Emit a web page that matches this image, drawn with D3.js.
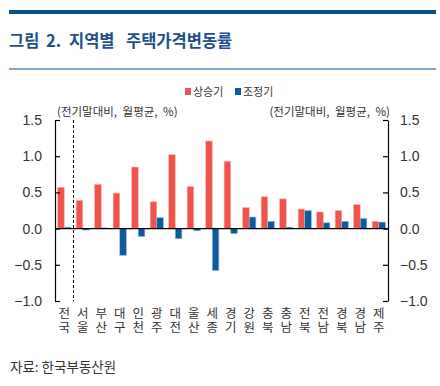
<!DOCTYPE html>
<meta charset="utf-8">
<script src="https://d3js.org/d3.v7.min.js"></script>
<style>
  body { margin: 0; background: #fff; }
  text { font-family: "Liberation Sans", Arial, "Noto Sans CJK KR", sans-serif; }
  .kr { font-family: "Noto Sans CJK KR", sans-serif; }
</style>
<div id="chart"></div>
<script>
// data
const regions = ["전국", "서울", "부산", "대구", "인천", "광주", "대전", "울산", "세종",
                 "경기", "강원", "충북", "충남", "전북", "전남", "경북", "경남", "제주"];
const upPhase = [0.57, 0.39, 0.61, 0.49, 0.85, 0.37, 1.02, 0.58, 1.21,
                 0.93, 0.29, 0.44, 0.41, 0.27, 0.23, 0.25, 0.33, 0.10];
const downPhase = [0.02, -0.02, 0.01, -0.37, -0.11, 0.15, -0.14, -0.03, -0.58,
                   -0.07, 0.16, 0.10, 0.02, 0.25, 0.08, 0.10, 0.14, 0.09];
const yTicks = [-1.0, -0.5, 0.0, 0.5, 1.0, 1.5];

const W = 440, H = 386;
const plot = { left: 55, right: 388, top: 120, bottom: 301 };
const red = "#f0534c", blue = "#0d5b9d", navy = "#0b4f8e";

const svg = d3.select("#chart").append("svg")
  .attr("width", W).attr("height", H);

// header lines + title
svg.append("rect").attr("x", 9).attr("y", 10).attr("width", 427).attr("height", 4).attr("fill", navy);
svg.append("rect").attr("x", 9).attr("y", 68.5).attr("width", 427).attr("height", 1).attr("fill", navy);
const title = svg.append("text").attr("class", "kr")
  .attr("y", 47)
  .attr("fill", "#1f4f8f")
  .style("font-size", "16.5px").style("font-weight", "bold");
[["그림", 9], ["2.", 46], ["지역별", 69], ["주택가격변동률", 126]].forEach(([s, px]) => {
  title.append("tspan").attr("x", px).text(s);
});

const x = d3.scaleBand().domain(regions).range([plot.left, plot.right]);
const y = d3.scaleLinear().domain([-1.0, 1.5]).range([plot.bottom, plot.top]);
const bw = 6.6;

// bars
const g = svg.append("g");
g.selectAll(".up").data(regions).join("rect")
  .attr("class", "up")
  .attr("x", (d) => x(d) + x.bandwidth() / 2 - bw)
  .attr("width", bw)
  .attr("y", (d, i) => y(Math.max(0, upPhase[i])))
  .attr("height", (d, i) => Math.abs(y(upPhase[i]) - y(0)))
  .attr("fill", red)
  .attr("stroke", "#f6b3b0").attr("stroke-width", 0.6);

g.selectAll(".down").data(regions).join("rect")
  .attr("class", "down")
  .attr("x", (d) => x(d) + x.bandwidth() / 2)
  .attr("width", bw)
  .attr("y", (d, i) => y(Math.max(0, downPhase[i])))
  .attr("height", (d, i) => Math.abs(y(downPhase[i]) - y(0)))
  .attr("fill", blue)
  .attr("stroke", "#9bb8d6").attr("stroke-width", 0.6);

// zero line
svg.append("line")
  .attr("x1", plot.left).attr("x2", plot.right)
  .attr("y1", y(0)).attr("y2", y(0))
  .attr("stroke", "#000").attr("stroke-width", 1.2);

// dashed separator after 전국
svg.append("line")
  .attr("x1", x("서울")).attr("x2", x("서울"))
  .attr("y1", plot.top).attr("y2", plot.bottom)
  .attr("stroke", "#000").attr("stroke-width", 1)
  .attr("stroke-dasharray", "3,2");

// axes
const fmt = d3.format(".1f");
const axL = svg.append("g").attr("transform", `translate(${plot.left},0)`)
  .call(d3.axisLeft(y).tickValues(yTicks).tickFormat(fmt).tickSizeInner(-5).tickSizeOuter(0).tickPadding(13));
const axR = svg.append("g").attr("transform", `translate(${plot.right},0)`)
  .call(d3.axisRight(y).tickValues(yTicks).tickFormat(fmt).tickSizeInner(-5).tickSizeOuter(0).tickPadding(12));
[axL, axR].forEach((a) => {
  a.selectAll("path, line").attr("stroke", "#000").attr("stroke-width", 1.2);
  a.selectAll("text").style("font-size", "14px").attr("fill", "#333")
    .style("font-family", "'Liberation Sans', Arial, sans-serif");
});

// x labels, written top-to-bottom
svg.append("g").selectAll("text").data(regions).join("text")
  .attr("class", "kr")
  .attr("x", (d) => x(d) + x.bandwidth() / 2)
  .attr("y", 307)
  .style("writing-mode", "vertical-rl")
  .style("letter-spacing", "1.5px")
  .style("font-size", "12.5px")
  .attr("fill", "#333")
  .text((d) => d);

// unit notes
const note = "(전기말대비, 월평균, %)";
svg.append("text").attr("class", "kr")
  .attr("x", 57).attr("y", 116).attr("fill", "#333")
  .style("font-size", "11.5px").style("word-spacing", "3px").text(note);
svg.append("text").attr("class", "kr")
  .attr("x", 390).attr("y", 116).attr("text-anchor", "end").attr("fill", "#333")
  .style("font-size", "11.5px").style("word-spacing", "3px").text(note);

// legend
const legend = [["상승기", red, 185], ["조정기", blue, 235]];
legend.forEach(([name, c, lx]) => {
  svg.append("rect").attr("x", lx).attr("y", 88).attr("width", 6).attr("height", 7).attr("fill", c);
  svg.append("text").attr("class", "kr")
    .attr("x", lx + 8).attr("y", 96).attr("fill", "#333")
    .style("font-size", "11px").text(name);
});

// source
svg.append("text").attr("class", "kr")
  .attr("x", 10).attr("y", 372).attr("fill", "#333")
  .style("font-size", "13.5px").text("자료: 한국부동산원");
</script>
